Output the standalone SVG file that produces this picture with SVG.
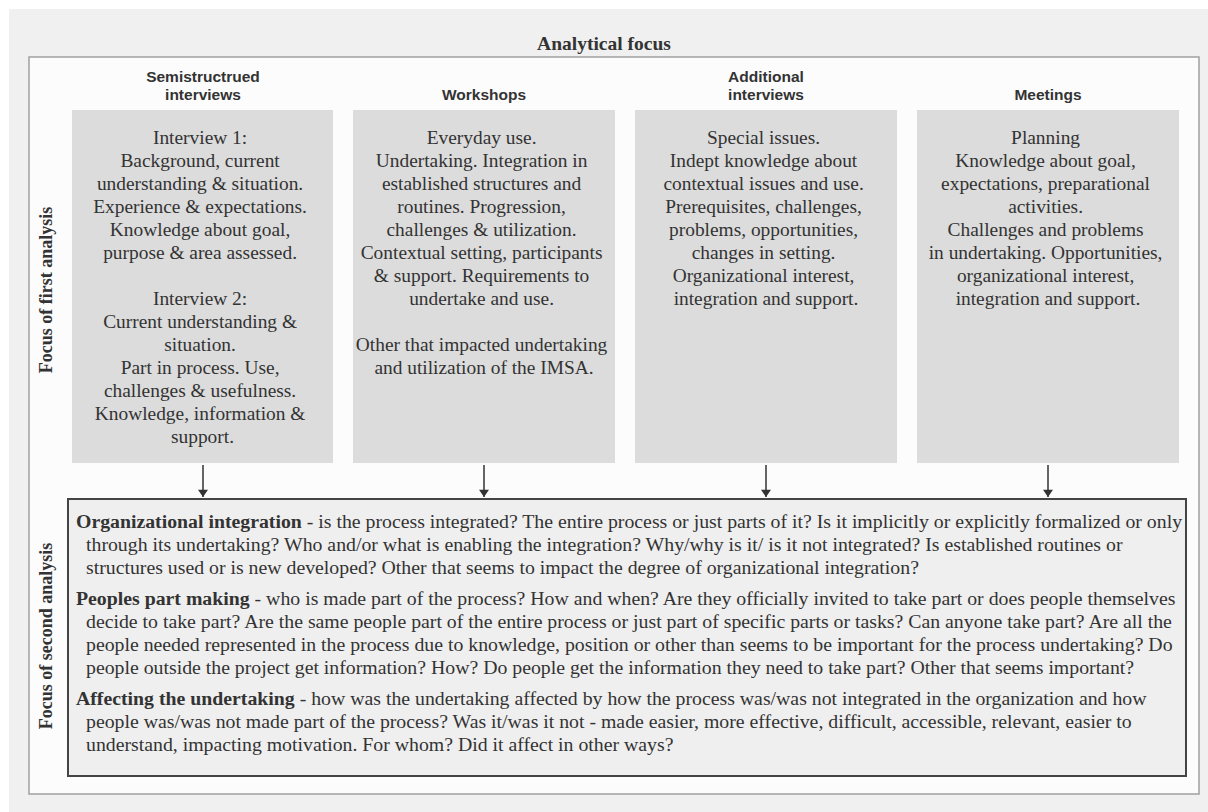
<svg xmlns="http://www.w3.org/2000/svg" width="1208" height="812" viewBox="0 0 1208 812">
<defs>
<style>
.hdr{font-family:"Liberation Sans",Arial,sans-serif;font-weight:bold;font-size:15.5px;fill:#333;text-anchor:middle}
.bx{fill:#dcdcdc}
.bt{font-family:"Liberation Serif","Times New Roman",serif;font-size:19.4px;fill:#333;text-anchor:middle}
.lt{font-family:"Liberation Serif","Times New Roman",serif;font-size:19.8px;fill:#333}
.vl{font-family:"Liberation Serif","Times New Roman",serif;font-weight:bold;font-size:18px;fill:#333;text-anchor:middle}
.b{font-weight:bold}
.conn line{stroke:#333;stroke-width:1.5}
</style>
<marker id="ah" viewBox="0 0 10 14" refX="10" refY="7" markerWidth="14" markerHeight="10" markerUnits="userSpaceOnUse" orient="auto">
<path d="M0,0 L10,7 L0,14 z" fill="#333"/>
</marker>
</defs>
<rect x="9" y="9" width="1199" height="803" fill="#f0f0f0"/>
<rect x="29" y="57" width="1170" height="737" fill="#fcfcfc" stroke="#a0a0a0" stroke-width="1.5"/>
<text x="604" y="50" font-family="Liberation Serif,Times New Roman,serif" font-weight="bold" font-size="19.5px" fill="#333" text-anchor="middle">Analytical focus</text>
<text class="vl" transform="translate(52,290) rotate(-90)">Focus of first analysis</text>
<text class="vl" transform="translate(52,636) rotate(-90)">Focus of second analysis</text>

<g id="node-semi">
<text class="hdr" x="203" y="82">Semistructrued</text>
<text class="hdr" x="203" y="100">interviews</text>
<rect class="bx" x="72" y="110" width="261" height="353"/>
<text class="bt">
<tspan x="202.5" y="144">Interview 1:</tspan>
<tspan x="202.5" y="167">Background, current</tspan>
<tspan x="202.5" y="190">understanding &amp; situation.</tspan>
<tspan x="202.5" y="213">Experience &amp; expectations.</tspan>
<tspan x="202.5" y="236">Knowledge about goal,</tspan>
<tspan x="202.5" y="259">purpose &amp; area assessed.</tspan>
<tspan x="202.5" y="305">Interview 2:</tspan>
<tspan x="202.5" y="328">Current understanding &amp;</tspan>
<tspan x="202.5" y="351">situation.</tspan>
<tspan x="202.5" y="374">Part in process. Use,</tspan>
<tspan x="202.5" y="397">challenges &amp; usefulness.</tspan>
<tspan x="202.5" y="420">Knowledge, information &amp;</tspan>
<tspan x="202.5" y="443">support.</tspan>
</text>
</g>

<g id="node-workshops">
<text class="hdr" x="484" y="100">Workshops</text>
<rect class="bx" x="353" y="110" width="262" height="353"/>
<text class="bt">
<tspan x="484" y="144">Everyday use.</tspan>
<tspan x="484" y="167">Undertaking. Integration in</tspan>
<tspan x="484" y="190">established structures and</tspan>
<tspan x="484" y="213">routines. Progression,</tspan>
<tspan x="484" y="236">challenges &amp; utilization.</tspan>
<tspan x="484" y="259">Contextual setting, participants</tspan>
<tspan x="484" y="282">&amp; support. Requirements to</tspan>
<tspan x="484" y="305">undertake and use.</tspan>
<tspan x="484" y="351">Other that impacted undertaking</tspan>
<tspan x="484" y="374">and utilization of the IMSA.</tspan>
</text>
</g>

<g id="node-additional">
<text class="hdr" x="766" y="82">Additional</text>
<text class="hdr" x="766" y="100">interviews</text>
<rect class="bx" x="635" y="110" width="262" height="353"/>
<text class="bt">
<tspan x="766" y="144">Special issues.</tspan>
<tspan x="766" y="167">Indept knowledge about</tspan>
<tspan x="766" y="190">contextual issues and use.</tspan>
<tspan x="766" y="213">Prerequisites, challenges,</tspan>
<tspan x="766" y="236">problems, opportunities,</tspan>
<tspan x="766" y="259">changes in setting.</tspan>
<tspan x="766" y="282">Organizational interest,</tspan>
<tspan x="766" y="305">integration and support.</tspan>
</text>
</g>

<g id="node-meetings">
<text class="hdr" x="1048" y="100">Meetings</text>
<rect class="bx" x="917" y="110" width="262" height="353"/>
<text class="bt">
<tspan x="1048" y="144">Planning</tspan>
<tspan x="1048" y="167">Knowledge about goal,</tspan>
<tspan x="1048" y="190">expectations, preparational</tspan>
<tspan x="1048" y="213">activities.</tspan>
<tspan x="1048" y="236">Challenges and problems</tspan>
<tspan x="1048" y="259">in undertaking. Opportunities,</tspan>
<tspan x="1048" y="282">organizational interest,</tspan>
<tspan x="1048" y="305">integration and support.</tspan>
</text>
</g>

<g id="node-second">
<rect x="68" y="499" width="1118" height="277" fill="#efefef" stroke="#444" stroke-width="2"/>
<text class="lt">
<tspan x="76" y="528"><tspan class="b">Organizational integration</tspan> - is the process integrated? The entire process or just parts of it? Is it implicitly or explicitly formalized or only</tspan>
<tspan x="86" y="551">through its undertaking? Who and/or what is enabling the integration? Why/why is it/ is it not integrated? Is established routines or</tspan>
<tspan x="86" y="574">structures used or is new developed? Other that seems to impact the degree of organizational integration?</tspan>
<tspan x="76" y="605"><tspan class="b">Peoples part making</tspan> - who is made part of the process? How and when? Are they officially invited to take part or does people themselves</tspan>
<tspan x="86" y="628">decide to take part? Are the same people part of the entire process or just part of specific parts or tasks? Can anyone take part? Are all the</tspan>
<tspan x="86" y="651">people needed represented in the process due to knowledge, position or other than seems to be important for the process undertaking? Do</tspan>
<tspan x="86" y="674">people outside the project get information? How? Do people get the information they need to take part? Other that seems important?</tspan>
<tspan x="76" y="705"><tspan class="b">Affecting the undertaking</tspan> - how was the undertaking affected by how the process was/was not integrated in the organization and how</tspan>
<tspan x="86" y="728">people was/was not made part of the process? Was it/was it not - made easier, more effective, difficult, accessible, relevant, easier to</tspan>
<tspan x="86" y="751">understand, impacting motivation. For whom? Did it affect in other ways?</tspan>
</text>
</g>

<g id="connectors" class="conn">
<line x1="203" y1="465" x2="203" y2="497" marker-end="url(#ah)"/>
<line x1="484" y1="465" x2="484" y2="497" marker-end="url(#ah)"/>
<line x1="766" y1="465" x2="766" y2="497" marker-end="url(#ah)"/>
<line x1="1048" y1="465" x2="1048" y2="497" marker-end="url(#ah)"/>
</g>
</svg>
